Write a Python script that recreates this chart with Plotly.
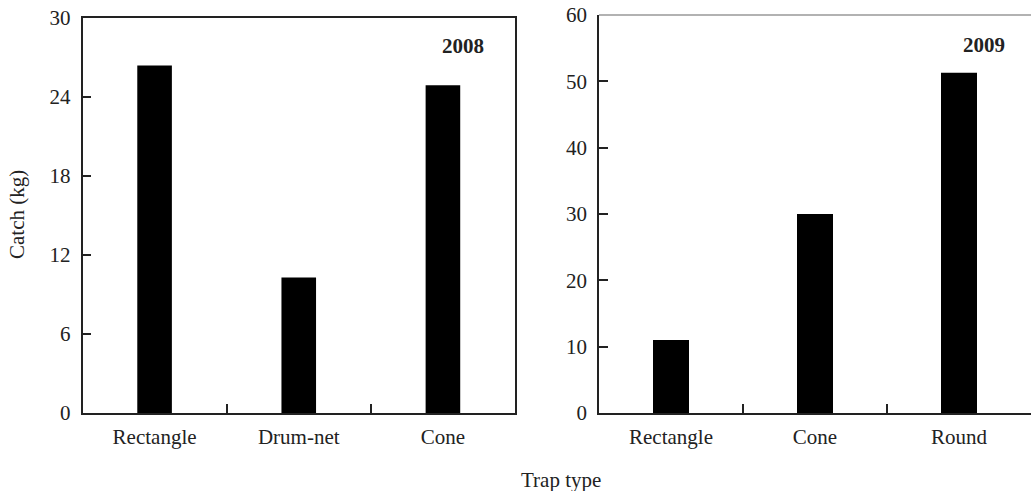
import plotly.graph_objects as go

cats_2008 = ["Rectangle", "Drum-net", "Cone"]
catch_2008 = [26.4, 10.3, 24.9]
cats_2009 = ["Rectangle", "Cone", "Round"]
catch_2009 = [11.0, 30.0, 51.3]
yticks_2008 = [0, 6, 12, 18, 24, 30]
yticks_2009 = [0, 10, 20, 30, 40, 50, 60]

W, H = 1031, 491
FONT = dict(family="Liberation Serif, Times New Roman, serif", size=21, color="#222")

def px_x(p):
    return p / W

def px_y(p):
    return 1 - p / H

fig = go.Figure()
fig.add_trace(go.Bar(x=cats_2008, y=catch_2008, marker=dict(color="black", line=dict(width=0)),
                     width=0.24, xaxis="x", yaxis="y", showlegend=False))
fig.add_trace(go.Bar(x=cats_2009, y=catch_2009, marker=dict(color="black", line=dict(width=0)),
                     width=0.25, xaxis="x2", yaxis="y2", showlegend=False))

axis_common = dict(showgrid=False, zeroline=False, showline=True, linecolor="#222", linewidth=1.5,
                   ticks="inside", ticklen=9, tickcolor="#222", tickwidth=1.5, tickfont=FONT,
                   automargin=False)

fig.update_layout(
    width=W, height=H, margin=dict(l=0, r=0, t=0, b=0, pad=0, autoexpand=False),
    plot_bgcolor="white", paper_bgcolor="white", font=FONT,
    xaxis=dict(domain=[px_x(82.5), px_x(515)], anchor="y", mirror=True, tickson="boundaries",
               range=[-0.5, 2.5], ticklabelstandoff=4, **axis_common),
    yaxis=dict(domain=[px_y(413), px_y(18)], anchor="x", mirror=True, range=[0, 30],
               tickvals=yticks_2008, ticklabelstandoff=6, **axis_common),
    xaxis2=dict(domain=[px_x(599), 1.0], anchor="y2", tickson="boundaries",
                range=[-0.5, 2.5], ticklabelstandoff=4, **axis_common),
    yaxis2=dict(domain=[px_y(413), px_y(15)], anchor="x2", range=[0, 60],
                tickvals=yticks_2009, ticklabelstandoff=6, **axis_common),
)

fig.add_shape(type="line", xref="x2 domain", yref="y2 domain", x0=0, x1=1, y0=1, y1=1,
              line=dict(color="#999", width=1.5))

fig.add_annotation(text="<b>2008</b>", xref="paper", yref="paper", x=px_x(463), y=px_y(46),
                   showarrow=False, font=FONT, xanchor="center", yanchor="middle")
fig.add_annotation(text="<b>2009</b>", xref="paper", yref="paper", x=px_x(984), y=px_y(45),
                   showarrow=False, font=FONT, xanchor="center", yanchor="middle")
fig.add_annotation(text="Catch (kg)", xref="paper", yref="paper", x=px_x(17), y=px_y(215),
                   showarrow=False, font=FONT, textangle=-90, xanchor="center", yanchor="middle")
fig.add_annotation(text="Trap type", xref="paper", yref="paper", x=px_x(561), y=px_y(480),
                   showarrow=False, font=FONT, xanchor="center", yanchor="middle")

fig.write_html("out.html")
